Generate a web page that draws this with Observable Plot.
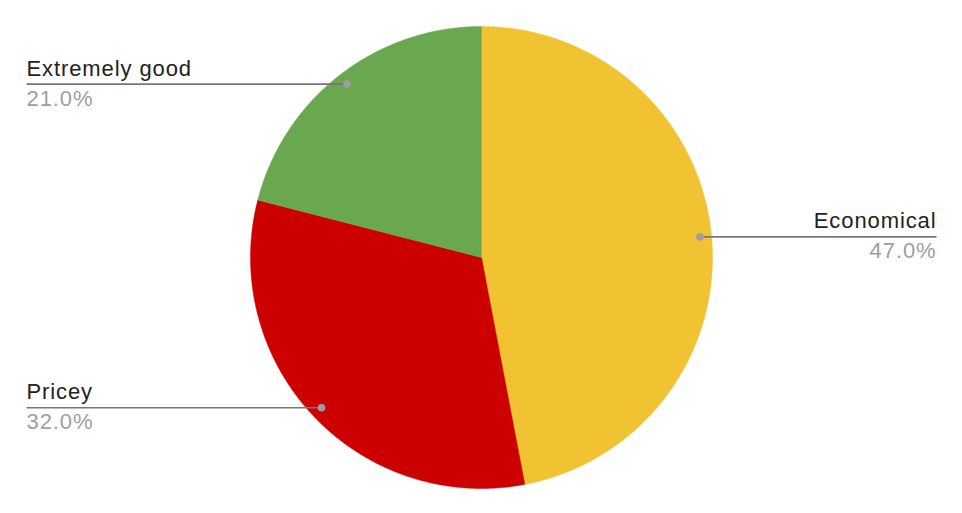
<!DOCTYPE html>
<html>
<head>
<meta charset="utf-8">
<script src="https://cdn.jsdelivr.net/npm/d3@7"></script>
<script src="https://cdn.jsdelivr.net/npm/@observablehq/plot@0.6"></script>
<style>
  html, body { margin: 0; padding: 0; background: #fff; }
  #chart svg { display: block; }
  #chart svg text { letter-spacing: 0.9px; }
</style>
</head>
<body>
<div id="chart"></div>
<script>
const categories = ["Economical", "Pricey", "Extremely good"];
const values = [47.0, 32.0, 21.0];
const colors = ["#f1c232", "#cc0000", "#6aa84f"];

const W = 962, H = 513;
const cx = 481, cy = 257, R = 231;

const total = d3.sum(values);
const arcs = d3.pie().sort(null).value(d => d)(values);

// polygon points for each slice (unit circle, y up, angle clockwise from top)
const pts = [];
arcs.forEach((a, i) => {
  const name = categories[i];
  pts.push({name, x: 0, y: 0});
  const n = Math.max(2, Math.ceil((a.endAngle - a.startAngle) / 0.005));
  for (let k = 0; k <= n; k++) {
    const t = a.startAngle + (a.endAngle - a.startAngle) * k / n;
    pts.push({name, x: Math.sin(t), y: Math.cos(t)});
  }
  pts.push({name, x: 0, y: 0});
});

const labelX = (W / 2 - 26) / R;
const labels = arcs.map((a, i) => {
  const m = (a.startAngle + a.endAngle) / 2;
  const px = 0.95 * Math.sin(m), py = 0.95 * Math.cos(m);
  const right = px >= 0;
  return {
    name: categories[i],
    pct: (values[i] / total * 100).toFixed(1) + "%",
    px, py, right,
    lx: right ? labelX : -labelX
  };
});
const rightLabels = labels.filter(d => d.right);
const leftLabels = labels.filter(d => !d.right);

const textMarks = (data, anchor) => [
  Plot.text(data, {x: "lx", y: "py", text: "name", textAnchor: anchor, dy: -15.5, fontSize: 22, fill: "#222"}),
  Plot.text(data, {x: "lx", y: "py", text: "pct", textAnchor: anchor, dy: 14.5, fontSize: 22, fill: "#9e9e9e"})
];

const chart = Plot.plot({
  width: W, height: H,
  margin: 0,
  x: {domain: [-cx / R, (W - cx) / R], range: [0, W], axis: null},
  y: {domain: [(cy - H) / R, cy / R], range: [H, 0], axis: null},
  color: {domain: categories, range: colors},
  style: {fontFamily: "'Liberation Sans', Arial, sans-serif", background: "#fff"},
  marks: [
    Plot.line(pts, {x: "x", y: "y", z: "name", fill: "name", stroke: "name", strokeWidth: 0.5, curve: "linear"}),
    Plot.link(labels, {x1: "px", y1: "py", x2: "lx", y2: "py", stroke: "#777", strokeWidth: 1.6}),
    Plot.dot(labels, {x: "px", y: "py", r: 3.8, fill: "#9e9e9e", stroke: "none"}),
    ...textMarks(rightLabels, "end"),
    ...textMarks(leftLabels, "start")
  ]
});
document.getElementById("chart").appendChild(chart);
</script>
</body>
</html>
